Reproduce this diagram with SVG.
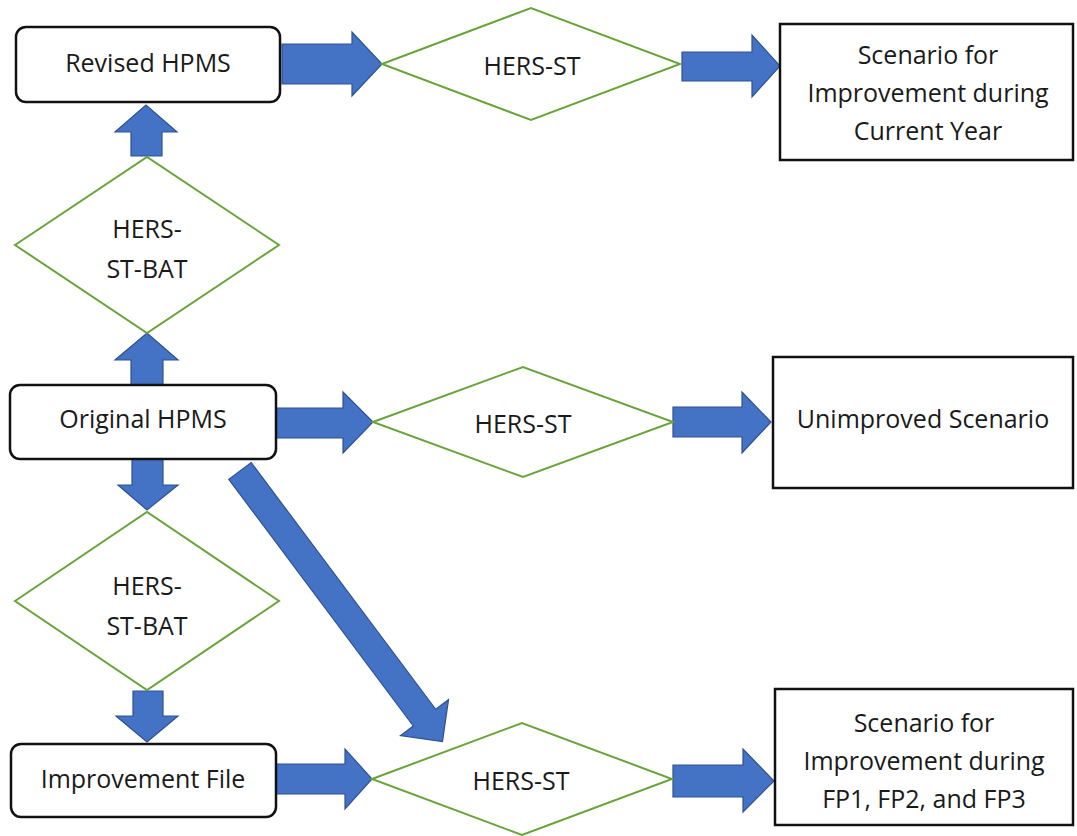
<svg xmlns="http://www.w3.org/2000/svg" width="1077" height="836" viewBox="0 0 1077 836">
<style>
.box{fill:#fff;stroke:#111;stroke-width:2.5}
.dia{fill:#fff;stroke:#6aa33a;stroke-width:2}
.arr{fill:#4472c4;stroke:#2f528f;stroke-width:1.2;stroke-linejoin:miter}
text{font-family:"Open Sans","Liberation Sans",sans-serif;font-size:25px;fill:#1a1a1a;text-anchor:middle}
</style>
<rect width="1077" height="836" fill="#fff"/>
<g id="connectors">
<polygon class="arr" points="282,44 352,44 352,32 382,64 352,96 352,84 282,84"/>
<polygon class="arr" points="682,52 752,52 752,35 780,66 752,97 752,81 682,81"/>
<polygon class="arr" points="131,156 131,132 115,132 146,105 177,132 162,132 162,156"/>
<polygon class="arr" points="131,386 131,360 115,360 147,333 178,360 163,360 163,386"/>
<polygon class="arr" points="276,408 343,408 343,392 373,422 343,453 343,438 276,438"/>
<polygon class="arr" points="673,407 742,407 742,392 771,422 742,453 742,437 673,437"/>
<polygon class="arr" points="132,459 163,459 163,485 178,485 147,510 118,485 132,485"/>
<polygon class="arr" points="133,691 163,691 163,716 178,716 147,742 116,716 133,716"/>
<polygon class="arr" points="276,764 345,764 345,749 372,779 345,809 345,794 276,794"/>
<polygon class="arr" points="673,765 743,765 743,749 774,781 743,812 743,797 673,797"/>
<polygon class="arr" transform="translate(240,471) rotate(53.2)" points="0,-14 308,-14 308,-30 338,0 308,30 308,14 0,14"/>
</g>
<g id="revised-hpms"><rect class="box" x="16" y="27" width="264" height="75" rx="10"/><text x="148" y="72">Revised HPMS</text></g>
<g id="hers-st-top"><polygon class="dia" points="382,64 531,8 680,64 531,120"/><text x="532" y="75">HERS-ST</text></g>
<g id="scenario-current"><rect class="box" x="780" y="24" width="293" height="136"/><text x="928" y="64">Scenario for</text><text x="928" y="102">Improvement during</text><text x="928" y="140">Current Year</text></g>
<g id="hers-st-bat-upper"><polygon class="dia" points="15,245 147,157 279,245 147,333"/><text x="147" y="238">HERS-</text><text x="147" y="278">ST-BAT</text></g>
<g id="original-hpms"><rect class="box" x="10" y="385" width="266" height="74" rx="10"/><text x="143" y="428">Original HPMS</text></g>
<g id="hers-st-mid"><polygon class="dia" points="373,422 523,367 673,422 523,477"/><text x="523" y="433">HERS-ST</text></g>
<g id="unimproved"><rect class="box" x="773" y="357" width="300" height="131"/><text x="923" y="428">Unimproved Scenario</text></g>
<g id="hers-st-bat-lower"><polygon class="dia" points="15,601 147,512 279,601 147,690"/><text x="147" y="595">HERS-</text><text x="147" y="635">ST-BAT</text></g>
<g id="improvement-file"><rect class="box" x="11" y="744" width="265" height="73" rx="10"/><text x="143" y="788">Improvement File</text></g>
<g id="hers-st-bottom"><polygon class="dia" points="372,779 522,723 672,779 522,835"/><text x="521" y="790">HERS-ST</text></g>
<g id="scenario-fp"><rect class="box" x="775" y="689" width="298" height="136"/><text x="924" y="732">Scenario for</text><text x="924" y="770">Improvement during</text><text x="924" y="808">FP1, FP2, and FP3</text></g>
</svg>
